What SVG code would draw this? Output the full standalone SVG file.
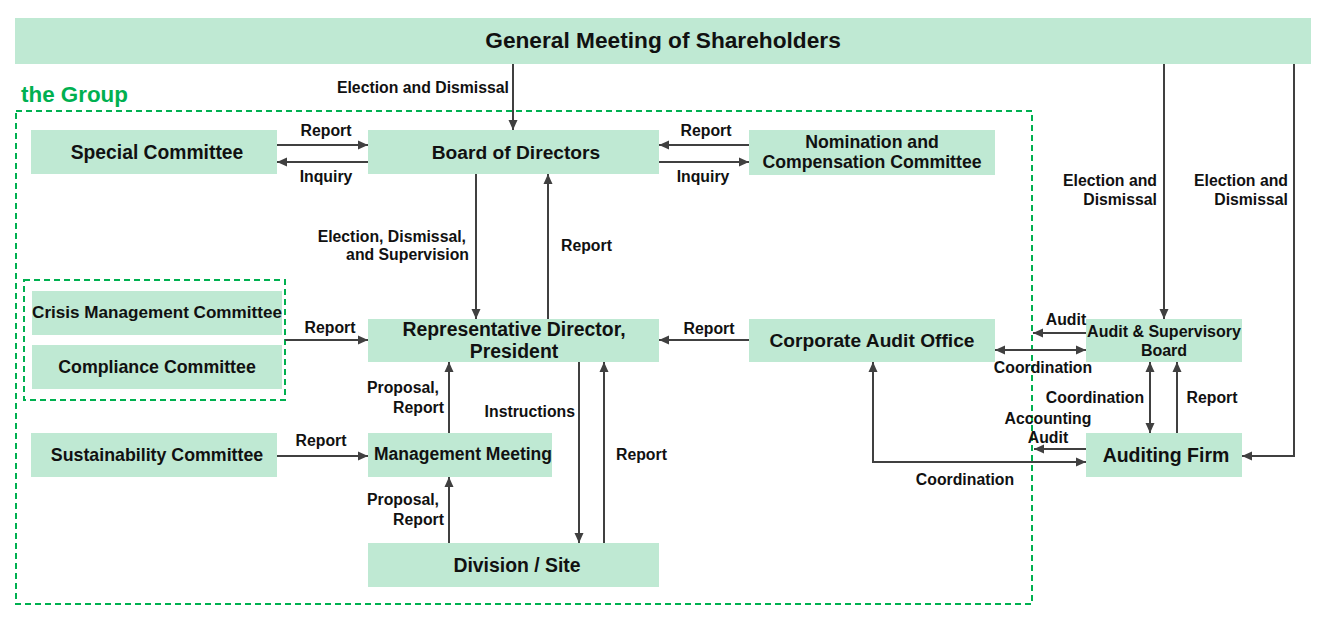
<svg xmlns="http://www.w3.org/2000/svg" width="1322" height="622" viewBox="0 0 1322 622">
<style>
.box{fill:#bfe9d3;}
.bt{font-family:"Liberation Sans",Arial,sans-serif;font-weight:bold;fill:#111;text-anchor:middle;}
.lb{font-family:"Liberation Sans",Arial,sans-serif;font-weight:bold;font-size:15.8px;fill:#111;}
.c{stroke:#404040;stroke-width:2;fill:none;}
.a{marker-end:url(#ah);}
.b{marker-start:url(#ah);marker-end:url(#ah);}
.dash{fill:none;stroke:#00b050;stroke-width:2;stroke-dasharray:6 4;}
</style>
<defs>
<marker id="ah" viewBox="0 0 10 10" refX="10" refY="5" markerWidth="10" markerHeight="10" markerUnits="userSpaceOnUse" orient="auto-start-reverse">
<path d="M0,0.5 L10,5 L0,9.5 z" fill="#404040"/>
</marker>
</defs>
<rect width="1322" height="622" fill="#fff"/>

<rect class="dash" x="16" y="111" width="1016" height="493"/>
<text x="21" y="102" font-family="Liberation Sans,Arial,sans-serif" font-weight="bold" font-size="22.4" fill="#00b050">the Group</text>
<rect class="dash" x="24" y="280" width="261" height="120"/>

<g id="gm"><rect class="box" x="15" y="18" width="1296" height="46"/><text class="bt" x="663" y="48" font-size="22.7">General Meeting of Shareholders</text></g>
<g id="special"><rect class="box" x="31" y="130" width="246" height="44"/><text class="bt" x="157" y="159" font-size="19.3">Special Committee</text></g>
<g id="board"><rect class="box" x="368" y="130" width="291" height="44"/><text class="bt" x="516" y="159" font-size="19.2">Board of Directors</text></g>
<g id="nomination"><rect class="box" x="749" y="130" width="246" height="45"/><text class="bt" x="872" y="148" font-size="17.7">Nomination and</text><text class="bt" x="872" y="168" font-size="17.7">Compensation Committee</text></g>
<g id="crisis"><rect class="box" x="32" y="291" width="250" height="44"/><text class="bt" x="157" y="318" font-size="17.1">Crisis Management Committee</text></g>
<g id="compliance"><rect class="box" x="32" y="345" width="250" height="44"/><text class="bt" x="157" y="373" font-size="17.8">Compliance Committee</text></g>
<g id="sustain"><rect class="box" x="31" y="433" width="246" height="44"/><text class="bt" x="157" y="461" font-size="17.8">Sustainability Committee</text></g>
<g id="rep"><rect class="box" x="368" y="319" width="291" height="43"/><text class="bt" x="514" y="336" font-size="19.4">Representative Director,</text><text class="bt" x="514" y="358" font-size="19.4">President</text></g>
<g id="mgmt"><rect class="box" x="368" y="433" width="184" height="44"/><text class="bt" x="463" y="460" font-size="17.5">Management Meeting</text></g>
<g id="division"><rect class="box" x="368" y="543" width="291" height="44"/><text class="bt" x="517" y="572" font-size="19.4">Division / Site</text></g>
<g id="cao"><rect class="box" x="749" y="319" width="246" height="43"/><text class="bt" x="872" y="347" font-size="19.2">Corporate Audit Office</text></g>
<g id="asb"><rect class="box" x="1086" y="319" width="156" height="43"/><text class="bt" x="1164" y="337" font-size="16">Audit &amp; Supervisory</text><text class="bt" x="1164" y="356" font-size="16">Board</text></g>
<g id="firm"><rect class="box" x="1086" y="433" width="156" height="44"/><text class="bt" x="1166" y="462" font-size="19.5">Auditing Firm</text></g>

<g id="connectors">
<line class="c a" x1="513" y1="64" x2="513" y2="130"/>
<line class="c a" x1="277" y1="145" x2="368" y2="145"/>
<line class="c a" x1="368" y1="162" x2="277" y2="162"/>
<line class="c a" x1="749" y1="145" x2="659" y2="145"/>
<line class="c a" x1="659" y1="162" x2="749" y2="162"/>
<line class="c a" x1="476" y1="174" x2="476" y2="319"/>
<line class="c a" x1="548" y1="319" x2="548" y2="174"/>
<line class="c a" x1="285" y1="340" x2="368" y2="340"/>
<line class="c a" x1="749" y1="340" x2="659" y2="340"/>
<line class="c a" x1="449" y1="433" x2="449" y2="362"/>
<line class="c a" x1="579" y1="362" x2="579" y2="543"/>
<line class="c a" x1="604" y1="543" x2="604" y2="362"/>
<line class="c a" x1="277" y1="456" x2="368" y2="456"/>
<line class="c a" x1="449" y1="543" x2="449" y2="477"/>
<line class="c a" x1="1164" y1="64" x2="1164" y2="319"/>
<polyline class="c a" points="1294,64 1294,456 1242,456"/>
<line class="c a" x1="1086" y1="333" x2="1033" y2="333"/>
<line class="c b" x1="995" y1="350" x2="1086" y2="350"/>
<line class="c b" x1="1150" y1="362" x2="1150" y2="433"/>
<line class="c a" x1="1177" y1="433" x2="1177" y2="362"/>
<line class="c a" x1="1086" y1="449" x2="1034" y2="449"/>
<polyline class="c b" points="873,362 873,462 1086,462"/>
</g>

<g id="labels">
<text class="lb" x="509" y="93" text-anchor="end">Election and Dismissal</text>
<text class="lb" x="326" y="136" text-anchor="middle">Report</text>
<text class="lb" x="326" y="182" text-anchor="middle">Inquiry</text>
<text class="lb" x="706" y="136" text-anchor="middle">Report</text>
<text class="lb" x="703" y="182" text-anchor="middle">Inquiry</text>
<text class="lb" x="466" y="242" text-anchor="end">Election, Dismissal,</text>
<text class="lb" x="469" y="260" text-anchor="end">and Supervision</text>
<text class="lb" x="561" y="251">Report</text>
<text class="lb" x="330" y="333" text-anchor="middle">Report</text>
<text class="lb" x="709" y="334" text-anchor="middle">Report</text>
<text class="lb" x="439" y="393" text-anchor="end">Proposal,</text>
<text class="lb" x="444" y="413" text-anchor="end">Report</text>
<text class="lb" x="575" y="417" text-anchor="end">Instructions</text>
<text class="lb" x="616" y="460">Report</text>
<text class="lb" x="321" y="446" text-anchor="middle">Report</text>
<text class="lb" x="439" y="505" text-anchor="end">Proposal,</text>
<text class="lb" x="444" y="525" text-anchor="end">Report</text>
<text class="lb" x="1157" y="186" text-anchor="end">Election and</text>
<text class="lb" x="1157" y="205" text-anchor="end">Dismissal</text>
<text class="lb" x="1288" y="186" text-anchor="end">Election and</text>
<text class="lb" x="1288" y="205" text-anchor="end">Dismissal</text>
<text class="lb" x="1066" y="325" text-anchor="middle">Audit</text>
<text class="lb" x="1043" y="373" text-anchor="middle">Coordination</text>
<text class="lb" x="1095" y="403" text-anchor="middle">Coordination</text>
<text class="lb" x="1212" y="403" text-anchor="middle">Report</text>
<text class="lb" x="1048" y="424" text-anchor="middle">Accounting</text>
<text class="lb" x="1048" y="443" text-anchor="middle">Audit</text>
<text class="lb" x="965" y="485" text-anchor="middle">Coordination</text>
</g>
</svg>
